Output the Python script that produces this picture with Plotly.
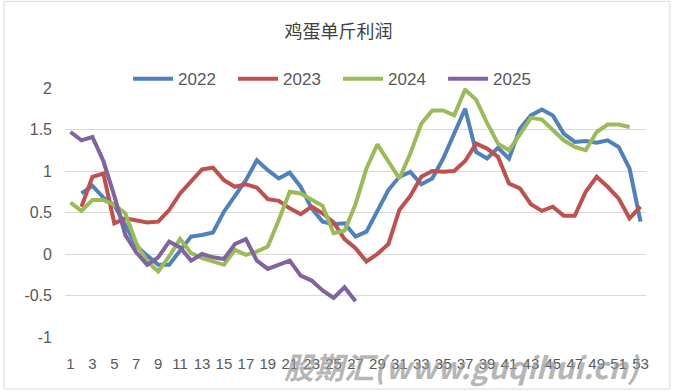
import plotly.graph_objects as go

weeks = [1, 2, 3, 4, 5, 6, 7, 8, 9, 10, 11, 12, 13, 14, 15, 16, 17, 18, 19, 20,
         21, 22, 23, 24, 25, 26, 27, 28, 29, 30, 31, 32, 33, 34, 35, 36, 37, 38, 39, 40,
         41, 42, 43, 44, 45, 46, 47, 48, 49, 50, 51, 52, 53]

y2022 = [None, 0.73, 0.82, 0.68, 0.59, 0.35, 0.10, -0.02, -0.13, -0.13, 0.05, 0.21, 0.23,
         0.26, 0.51, 0.71, 0.89, 1.13, 1.01, 0.91, 0.98, 0.81, 0.55, 0.39, 0.36, 0.37,
         0.21, 0.27, 0.53, 0.77, 0.93, 0.99, 0.84, 0.91, 1.15, 1.45, 1.75, 1.23, 1.15,
         1.28, 1.15, 1.51, 1.67, 1.74, 1.67, 1.45, 1.35, 1.36, 1.34, 1.37, 1.29, 1.03, 0.39]

y2023 = [None, 0.57, 0.93, 0.97, 0.37, 0.43, 0.41, 0.38, 0.39, 0.53, 0.73, 0.87, 1.02,
         1.04, 0.89, 0.81, 0.84, 0.80, 0.66, 0.64, 0.55, 0.48, 0.57, 0.49, 0.38, 0.18,
         0.07, -0.09, 0.00, 0.12, 0.53, 0.70, 0.93, 1.00, 0.99, 1.00, 1.12, 1.33, 1.27,
         1.17, 0.85, 0.79, 0.60, 0.52, 0.57, 0.46, 0.46, 0.75, 0.93, 0.81, 0.67, 0.43, 0.57]

y2024 = [0.62, 0.52, 0.65, 0.65, 0.59, 0.49, 0.13, -0.09, -0.21, -0.03, 0.18, 0.01, -0.05,
         -0.09, -0.13, 0.05, -0.01, 0.03, 0.09, 0.41, 0.75, 0.73, 0.65, 0.58, 0.25, 0.28,
         0.60, 1.03, 1.32, 1.11, 0.91, 1.21, 1.57, 1.73, 1.73, 1.67, 1.98, 1.86, 1.58,
         1.33, 1.25, 1.44, 1.64, 1.62, 1.49, 1.37, 1.29, 1.25, 1.47, 1.56, 1.56, 1.53, None]

y2025 = [1.47, 1.37, 1.41, 1.12, 0.70, 0.23, 0.02, -0.13, -0.04, 0.15, 0.08, -0.08, 0.00,
         -0.04, -0.06, 0.12, 0.18, -0.08, -0.18, -0.13, -0.08, -0.26, -0.32, -0.44, -0.53,
         -0.40, -0.57]

tick_vals = [1, 3, 5, 7, 9, 11, 13, 15, 17, 19, 21, 23, 25, 27, 29, 31, 33, 35, 37, 39,
             41, 43, 45, 47, 49, 51, 53]
tick_text = [str(v) for v in tick_vals]

series = [
    ("2022", y2022, "#4F81BD"),
    ("2023", y2023, "#C0504D"),
    ("2024", y2024, "#9BBB59"),
    ("2025", y2025, "#8064A2"),
]

fig = go.Figure()
for name, ys, color in series:
    fig.add_trace(go.Scatter(
        x=weeks[:len(ys)], y=ys, name=name, mode="lines",
        line=dict(color=color, width=4), connectgaps=False,
    ))

fig.update_layout(
    width=677, height=391,
    margin=dict(l=65, r=31, t=88, b=54),
    paper_bgcolor="white", plot_bgcolor="white",
    title=dict(text="鸡蛋单斤利润", x=0.5, xanchor="center", y=0.92, yanchor="middle",
               font=dict(family="Noto Sans CJK SC", size=18, color="#404040")),
    legend=dict(orientation="h", x=0.47, xanchor="center", y=1.035, yanchor="middle",
                font=dict(family="Liberation Sans", size=17, color="#595959"),
                bgcolor="rgba(0,0,0,0)", itemwidth=40, traceorder="normal",
                entrywidth=50, entrywidthmode="pixels"),
    showlegend=True,
)

fig.update_xaxes(range=[0.5, 53.5], tickmode="array", tickvals=tick_vals, ticktext=tick_text,
                 tickangle=0, showgrid=False, zeroline=False, showline=False, ticks="",
                 ticklabelstandoff=16,
                 tickfont=dict(family="Liberation Sans", size=15, color="#595959"))
fig.update_yaxes(range=[-1, 2], tickmode="array", tickvals=[-1, -0.5, 0, 0.5, 1, 1.5, 2],
                 ticktext=["-1", "-0.5", "0", "0.5", "1", "1.5", "2"],
                 showgrid=True, gridcolor="#D9D9D9", gridwidth=1, zeroline=False,
                 showline=False, ticks="", ticklabelstandoff=12,
                 tickfont=dict(family="Liberation Sans", size=16, color="#595959"))

fig.add_shape(type="rect", xref="paper", yref="paper", x0=-0.105, x1=1.041, y0=-0.209, y1=1.348,
              line=dict(color="#D9D9D9", width=1), fillcolor="rgba(0,0,0,0)", layer="below")

fig.add_annotation(text="<b><i>股期汇(www.guqihui.cn)</i></b>", xref="paper", yref="paper",
                   x=0.685, y=-0.115, xanchor="center", yanchor="middle", showarrow=False,
                   font=dict(family="Noto Sans CJK SC", size=30, color="rgba(150,150,150,0.7)"))

fig.write_html("out.html", config={"displayModeBar": False},
               post_script="document.body.style.margin='0';document.body.style.overflow='hidden';")
